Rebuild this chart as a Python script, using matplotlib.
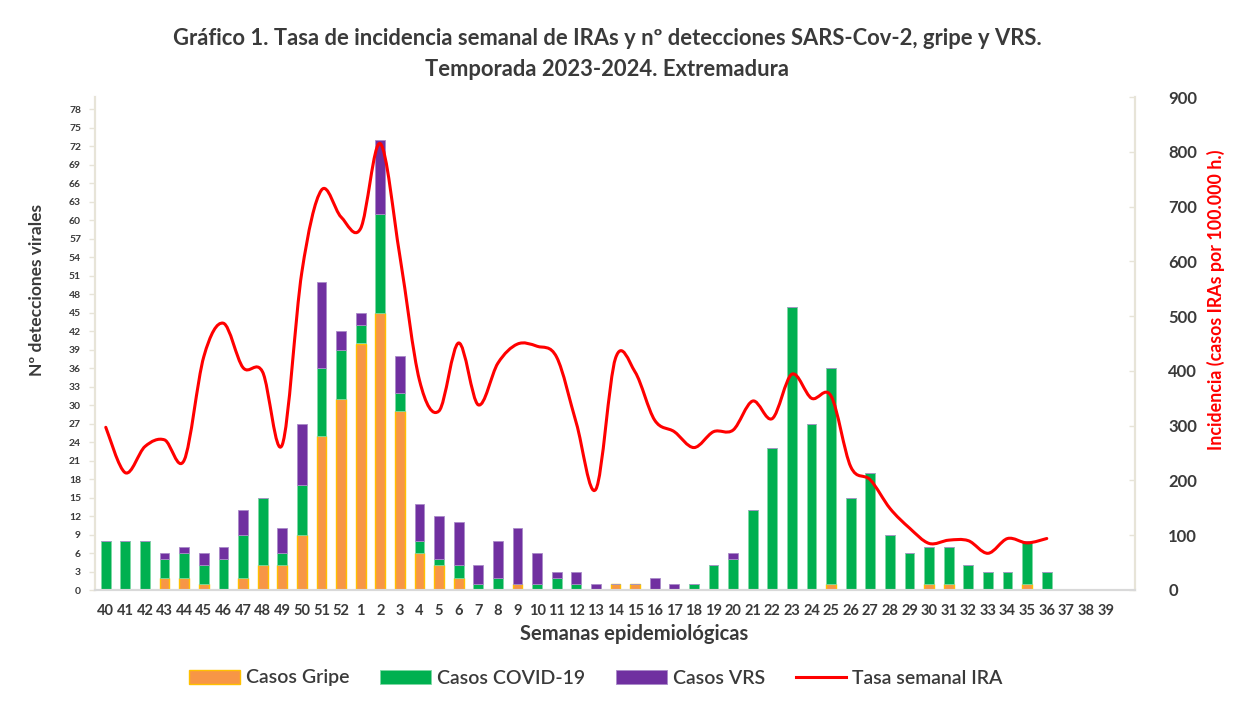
import numpy as np
import matplotlib
matplotlib.use("Agg")
import matplotlib.pyplot as plt
from matplotlib.path import Path
from matplotlib.patches import PathPatch, Patch
from matplotlib.lines import Line2D

plt.rcParams['font.family'] = ['Lato', 'DejaVu Sans']

weeks = [str(w) for w in list(range(40, 53)) + list(range(1, 40))]

gripe = [0, 0, 0, 2, 2, 1, 0, 2, 4, 4, 9, 25, 31,
         40, 45, 29, 6, 4, 2, 0, 0, 1, 0, 0, 0, 0, 1, 1, 0, 0, 0,
         0, 0, 0, 0, 0, 0, 1, 0, 0, 0, 0, 1, 1, 0, 0, 0, 1, 0, 0, 0, 0]
covid = [8, 8, 8, 3, 4, 3, 5, 7, 11, 2, 8, 11, 8,
         3, 16, 3, 2, 1, 2, 1, 2, 0, 1, 2, 1, 0, 0, 0, 0, 0, 1,
         4, 5, 13, 23, 46, 27, 35, 15, 19, 9, 6, 6, 6, 4, 3, 3, 7, 3, 0, 0, 0]
vrs = [0, 0, 0, 1, 1, 2, 2, 4, 0, 4, 10, 14, 3,
       2, 12, 6, 6, 7, 7, 3, 6, 9, 5, 1, 2, 1, 0, 0, 2, 1, 0,
       0, 1, 0, 0, 0, 0, 0, 0, 0, 0, 0, 0, 0, 0, 0, 0, 0, 0, 0, 0, 0]
tasa = [297, 214, 262, 274, 237, 426, 487, 406, 398, 265, 580, 730, 681,
        660, 815, 610, 383, 327, 451, 338, 414, 449, 445, 425, 305, 184, 423, 398, 310, 289, 260,
        289, 292, 345, 313, 394, 350, 354, 225, 201, 149, 113, 85, 91, 90, 67, 94, 86, 94,
        np.nan, np.nan, np.nan]

title = ("Gráfico 1. Tasa de incidencia semanal de IRAs y nº detecciones SARS-Cov-2, gripe y VRS.\n"
         "Temporada 2023-2024. Extremadura")

TXT = '#3A3A3A'
C_GRIPE = '#F79646'
C_COVID = '#00B050'
C_VRS = '#7030A0'
C_LINE = '#FF0000'

fig = plt.figure(figsize=(12.41, 7.06), dpi=100)
ax = fig.add_axes([95/1241, 1 - 590/706, (1135 - 95)/1241, (590 - 97)/706])
ax2 = ax.twinx()

x = np.arange(len(weeks))
g = np.array(gripe, float)
c = np.array(covid, float)
v = np.array(vrs, float)
w = 0.5
ax.bar(x, g, w, color=C_GRIPE, edgecolor='#FFC000', linewidth=1.0, zorder=2)
ax.bar(x, c, w, bottom=g, color=C_COVID, edgecolor='#7ED9A4', linewidth=0.6, zorder=2)
ax.bar(x, v, w, bottom=g + c, color=C_VRS, edgecolor='#A98AC8', linewidth=0.6, zorder=2)

ax.set_xlim(-0.55, 52.5)
ax.set_ylim(0, 80)
ax.set_yticks(np.arange(0, 79, 3))
ax.set_xticks(x)
ax.set_xticklabels(weeks)
ax2.set_ylim(0, 900)
ax2.set_yticks(np.arange(0, 901, 100))

# smoothed line (Catmull-Rom style Bezier, like Excel's smoothed line)
t = np.array(tasa, float)
valid = ~np.isnan(t)
px = x[valid].astype(float)
py = t[valid]
n = len(px)
verts = [(px[0], py[0])]
codes = [Path.MOVETO]
for i in range(n - 1):
    p0 = (px[i - 1], py[i - 1]) if i > 0 else (px[i], py[i])
    p1 = (px[i], py[i])
    p2 = (px[i + 1], py[i + 1])
    p3 = (px[i + 2], py[i + 2]) if i + 2 < n else (px[i + 1], py[i + 1])
    c1 = (p1[0] + (p2[0] - p0[0]) / 6, p1[1] + (p2[1] - p0[1]) / 6)
    c2 = (p2[0] - (p3[0] - p1[0]) / 6, p2[1] - (p3[1] - p1[1]) / 6)
    verts += [c1, c2, p2]
    codes += [Path.CURVE4] * 3
ax2.add_patch(PathPatch(Path(verts, codes), facecolor='none', edgecolor=C_LINE,
                        linewidth=2.2, zorder=3, capstyle='round', joinstyle='round'))

# spines and ticks
for a in (ax, ax2):
    a.spines['top'].set_visible(False)
    a.spines['left'].set_color('#E7E4D8')
    a.spines['right'].set_color('#E7E4D8')
    a.spines['bottom'].set_color('#D9D9D9')
    a.spines['left'].set_linewidth(1.5)
    a.spines['right'].set_linewidth(1.5)
    a.spines['bottom'].set_linewidth(1.5)
ax.tick_params(axis='y', colors='#E7E4D8', length=4, width=1, direction='out', pad=6)
for lab in ax.get_yticklabels():
    lab.set_color(TXT)
    lab.set_fontsize(7.5)
    lab.set_fontweight('bold')
ax.tick_params(axis='x', length=0, pad=10)
for lab in ax.get_xticklabels():
    lab.set_color(TXT)
    lab.set_fontsize(10.5)
    lab.set_fontweight('bold')
ax2.tick_params(axis='y', colors='#E7E4D8', length=4, width=1, direction='in', pad=24)
for lab in ax2.get_yticklabels():
    lab.set_color(TXT)
    lab.set_fontsize(12)
    lab.set_fontweight('bold')

fig.text(607/1241, 1 - 54/706, title, ha='center', va='center', fontsize=15.8,
         fontweight='bold', color=TXT, linespacing=1.6)
fig.text(37/1241, 1 - 290/706, 'Nº detecciones virales', rotation=90, ha='center',
         va='center', fontsize=12.5, fontweight='bold', color=TXT)
fig.text(1216/1241, 1 - 300/706, 'Incidencia (casos IRAs por 100.000 h.)', rotation=90,
         ha='center', va='center', fontsize=12.8, fontweight='bold', color=C_LINE)
fig.text(634/1241, 1 - 634/706, 'Semanas epidemiológicas', ha='center', va='center',
         fontsize=14.5, fontweight='bold', color=TXT)

handles = [Patch(facecolor=C_GRIPE, edgecolor='#FFC000', linewidth=1),
           Patch(facecolor=C_COVID, edgecolor='#7ED9A4', linewidth=0.6),
           Patch(facecolor=C_VRS, edgecolor='#A98AC8', linewidth=0.6),
           Line2D([], [], color=C_LINE, linewidth=2.2)]
labels = ['Casos Gripe', 'Casos COVID-19', 'Casos VRS', 'Tasa semanal IRA']
leg = fig.legend(handles, labels, loc='center', bbox_to_anchor=(596/1241, 1 - 678/706),
                 ncol=4, frameon=False, handlelength=2.6, handleheight=0.75,
                 handletextpad=0.3, columnspacing=1.6,
                 prop={'size': 14, 'weight': 'semibold'})
for txt in leg.get_texts():
    txt.set_color(TXT)

fig.savefig('out.png', dpi=100, facecolor='white')
